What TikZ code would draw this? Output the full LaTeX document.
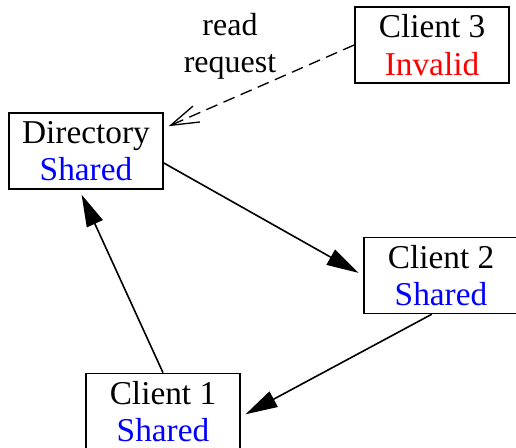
\documentclass[tikz,border=0pt]{standalone}
\usepackage{fontspec}
\setmainfont{Liberation Serif}
\usetikzlibrary{arrows.meta}
\tikzset{>={Triangle[length=24pt,width=13pt]}}
\tikzset{
  cache/.style={draw,line width=1.2pt,minimum width=115.5pt,minimum height=57pt,
    inner sep=0pt,align=center,font=\fontsize{25}{28}\selectfont},
  msg/.style={line width=1.2pt,->,shorten >=4pt},
}

\begin{document}
\begin{tikzpicture}[x=0.75pt,y=-0.75pt]
  \useasboundingbox (0,0) rectangle (516,448);

  % Directory and clients
  \node[cache] (dir) at (86,151) {Directory\\\textcolor{blue}{Shared}};
  \node[cache] (c3) at (432,45) {Client 3\\\textcolor{red}{Invalid}};
  \node[cache] (c2) at (441,275.5) {Client 2\\\textcolor{blue}{Shared}};
  \node[cache] (c1) at (163,411.5) {Client 1\\\textcolor{blue}{Shared}};

  % Read request from client 3
  \node[align=center,font=\fontsize{24}{28}\selectfont] (req) at (230,46) {read\\request};
  \draw[line width=1pt,dash pattern=on 9pt off 5pt,shorten >=4pt,
    -{Straight Barb[length=21pt,width=13pt,line width=1pt]}] (c3.west) -- ([yshift=17pt]dir.east);

  % Sharing cycle
  \draw[msg] ([yshift=-9pt]dir.east) -- (c2.west);
  \draw[msg] ([xshift=-7pt]c2.south) -- ([yshift=-4pt]c1.east);
  \draw[msg] (c1.north) -- ([xshift=-5pt]dir.south);
\end{tikzpicture}
\end{document}
